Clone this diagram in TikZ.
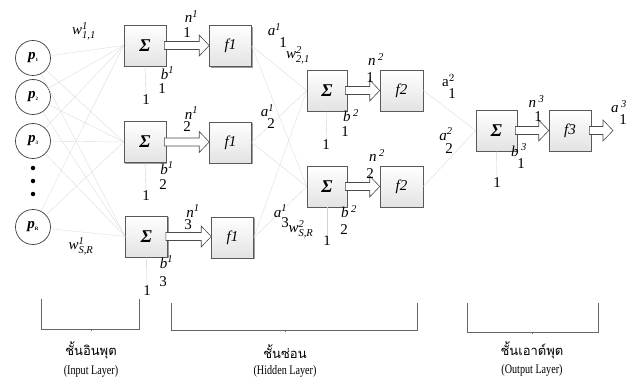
\documentclass[tikz,border=0pt]{standalone}
\usepackage{amsmath}
\usepackage{fontspec}
\setmainfont{Liberation Serif}
\newfontfamily\thaifont[Script=Thai]{Loma}
\newfontfamily\condfont[FakeStretch=0.78]{Liberation Serif}
\usetikzlibrary{shadows,calc}
\newcommand\sig{{\fontsize{18}{18}\selectfont\bfseries\itshape Σ}}
\newcommand\fl[1]{{\fontsize{15}{15}\selectfont\itshape f#1}}
\newcommand\pl[1]{{\fontsize{15}{15}\selectfont\bfseries\itshape p}\raisebox{-1.5pt}{\fontsize{5}{5}\selectfont\bfseries #1}}
\newcommand\hollowarr[2]{\draw[harrow] let \p1=#1, \p2=#2 in
  (\x1-2pt,\y1+4pt) -- (\x2-10pt,\y1+4pt) -- (\x2-10pt,\y1+10.5pt) -- (\x2,\y1)
  -- (\x2-10pt,\y1-10.5pt) -- (\x2-10pt,\y1-4pt) -- (\x1-2pt,\y1-4pt) -- cycle;}
\tikzset{
  conn/.style={draw=black!13, line width=0.4pt},
  biasline/.style={draw=black!18, line width=0.4pt},
  bx/.style={draw=black!65, line width=0.6pt, top color=white, bottom color=black!11,
    minimum width=42pt, minimum height=41pt, inner sep=0pt,
    drop shadow={shadow xshift=1.3pt, shadow yshift=-1.3pt, opacity=0.7, fill=black!55}},
  inp/.style={circle, draw=black!75, line width=0.7pt, fill=white, minimum size=35pt, inner sep=0pt},
  dotn/.style={circle, fill=black, minimum size=4.5pt, inner sep=0pt},
  harrow/.style={draw=black!70, fill=white, line width=0.6pt, line join=miter},
  brk/.style={draw=black!60, line width=0.7pt},
  lt/.style={inner sep=0pt, font=\fontsize{15}{15}\selectfont\itshape},
  dg/.style={inner sep=0pt, font=\fontsize{15}{15}\selectfont},
  thai/.style={inner sep=0pt, font=\fontsize{13}{13}\selectfont\thaifont},
  eng/.style={inner sep=0pt, font=\fontsize{13}{13}\selectfont\condfont},
}
\begin{document}
\begin{tikzpicture}[x=1pt,y=-1pt]
\fill[white] (0,0) rectangle (636,382);
\useasboundingbox (0,0) rectangle (636,382);

% input neurons
\node[inp] (p1) at (33,58) {\pl{1}};
\node[inp] (p2) at (33,97) {\pl{2}};
\node[inp] (p3) at (33,141) {\pl{3}};
\node[inp] (p4) at (33,227) {\pl{R}};
\node[dotn] (d1) at (33,168) {};
\node[dotn] (d2) at (33,181) {};
\node[dotn] (d3) at (33,194) {};

% boxes
\node[bx] (s11) at (145,45.5) {\sig};
\node[bx] (s12) at (145,142) {\sig};
\node[bx] (s13) at (146.5,236.5) {\sig};
\node[bx] (f11) at (230.5,46) {\fl{1}};
\node[bx] (f12) at (230.5,142.5) {\fl{1}};
\node[bx] (f13) at (232.5,237.5) {\fl{1}};
\node[bx,minimum width=40pt] (s21) at (327,90.5) {\sig};
\node[bx,minimum width=40pt] (s22) at (327,186.5) {\sig};
\node[bx,minimum width=43pt] (f21) at (401.5,90.5) {\fl{2}};
\node[bx,minimum width=43pt] (f22) at (401.5,186.5) {\fl{2}};
\node[bx,minimum width=41pt] (s3) at (496.5,130.5) {\sig};
\node[bx] (f3) at (570,130.5) {\fl{3}};
\coordinate (out) at (613,130.5);

% connections
\foreach \i in {p1,p2,p3,p4}
  \foreach \j in {s11,s12,s13}
    \draw[conn] (\i) -- (\j.west);
\foreach \i in {f11,f12,f13}
  \foreach \j in {s21,s22}
    \draw[conn] (\i.east) -- (\j.west);
\foreach \i in {f21,f22}
  \draw[conn] (\i.east) -- (s3.west);

% hollow arrows
\hollowarr{(s11.east)}{(f11.west)}
\hollowarr{(s12.east)}{(f12.west)}
\hollowarr{(s13.east)}{(f13.west)}
\hollowarr{(s21.east)}{(f21.west)}
\hollowarr{(s22.east)}{(f22.west)}
\hollowarr{(s3.east)}{(f3.west)}
\hollowarr{(f3.east)}{(out)}

% bias inputs
\node[dg] (o11) at (146,100) {1};
\node[dg] (o12) at (146,196) {1};
\node[dg] (o13) at (147,291) {1};
\node[dg] (o21) at (326,145) {1};
\node[dg] (o22) at (327,241) {1};
\node[dg] (o3) at (497,183) {1};
\draw[biasline] (s11.south) -- (o11.north);
\draw[biasline] (s12.south) -- (o12.north);
\draw[biasline] (s13.south) -- (o13.north);
\draw[biasline] (s21.south) -- (o21.north);
\draw[biasline] (s22.south) -- (o22.north);
\draw[biasline] (s3.south) -- (o3.north);

% weight labels layer 1
\node[lt] (w11) at (84,31) {w$^{\textit{1}}_{\textit{1,1}}$};
\node[lt] (wsr) at (81,246) {w$^{\textit{1}}_{\textit{S,R}}$};

% n labels layer 1
\node[lt] (n11) at (191.5,16.5) {n$^{\textit{1}}$};
\node[dg] (n11i) at (187,33) {1};
\node[lt] (n12) at (191.5,113) {n$^{\textit{1}}$};
\node[dg] (n12i) at (187,127) {2};
\node[lt] (n13) at (193,211) {n$^{\textit{1}}$};
\node[dg] (n13i) at (188,225) {3};

% b labels layer 1
\node[lt] (b11) at (167.5,73) {b$^{\textit{1}}$};
\node[dg] (b11i) at (162,89) {1};
\node[lt] (b12) at (167,168) {b$^{\textit{1}}$};
\node[dg] (b12i) at (163,185) {2};
\node[lt] (b13) at (166.5,262) {b$^{\textit{1}}$};
\node[dg] (b13i) at (163,282) {3};

% a labels layer 1 and weights layer 2
\node[lt] (a11) at (274.5,30) {a$^{\textit{1}}$};
\node[dg] (a11i) at (283,43) {1};
\node[lt] (w21) at (298,55) {w$^{\textit{2}}_{\textit{2,1}}$};
\node[lt] (a12) at (267.5,110.5) {a$^{\textit{1}}$};
\node[dg] (a12i) at (271,123.5) {2};
\node[lt] (a13) at (280.5,211) {a$^{\textit{1}}$};
\node[dg] (a13i) at (285,223) {3};
\node[lt] (w2sr) at (301,229) {w$^{\textit{2}}_{\textit{S,R}}$};

% layer 2 labels
\node[lt] (n21) at (376,59.5) {n\,$^{\textit{2}}$};
\node[dg] (n21i) at (370,77.5) {1};
\node[lt] (n22) at (377,155.5) {n\,$^{\textit{2}}$};
\node[dg] (n22i) at (370,174) {2};
\node[lt] (b21) at (351,115.5) {b\,$^{\textit{2}}$};
\node[dg] (b21i) at (345,132) {1};
\node[lt] (b22) at (349,211.5) {b\,$^{\textit{2}}$};
\node[dg] (b22i) at (344,230) {2};

% a labels layer 2
\node[dg] (a21) at (448.5,80.5) {a$^{2}$};
\node[dg] (a21i) at (452,94) {1};
\node[lt] (a22) at (446,134) {a$^{\textit{2}}$};
\node[dg] (a22i) at (449,149) {2};

% layer 3 labels
\node[lt] (n3) at (536.5,101.5) {n\,$^{\textit{3}}$};
\node[dg] (n3i) at (538,116.5) {1};
\node[lt] (b3) at (519,150) {b\,$^{\textit{3}}$};
\node[dg] (b3i) at (521,164) {1};
\node[lt] (a3) at (619,106.5) {a\,$^{\textit{3}}$};
\node[dg] (a3i) at (623,120) {1};

% layer brackets
\draw[brk] (41,299) -- (41,329) -- (139,329) -- (139,299);
\draw[brk] (91,329) -- (91,331);
\draw[brk] (171,303) -- (171,330) -- (417,330) -- (417,303);
\draw[brk] (285,330) -- (285,332);
\draw[brk] (467,303) -- (467,332) -- (598,332) -- (598,303);
\draw[brk] (532,332) -- (532,334);

\node[thai] (t1) at (91,350) {ชั้นอินพุต};
\node[eng] (e1) at (91,371) {(Input Layer)};
\node[thai] (t2) at (285,352) {ชั้นซ่อน};
\node[eng] (e2) at (285,371) {(Hidden Layer)};
\node[thai] (t3) at (532,350) {ชั้นเอาต์พุต};
\node[eng] (e3) at (532,370) {(Output Layer)};
\end{tikzpicture}
\end{document}
